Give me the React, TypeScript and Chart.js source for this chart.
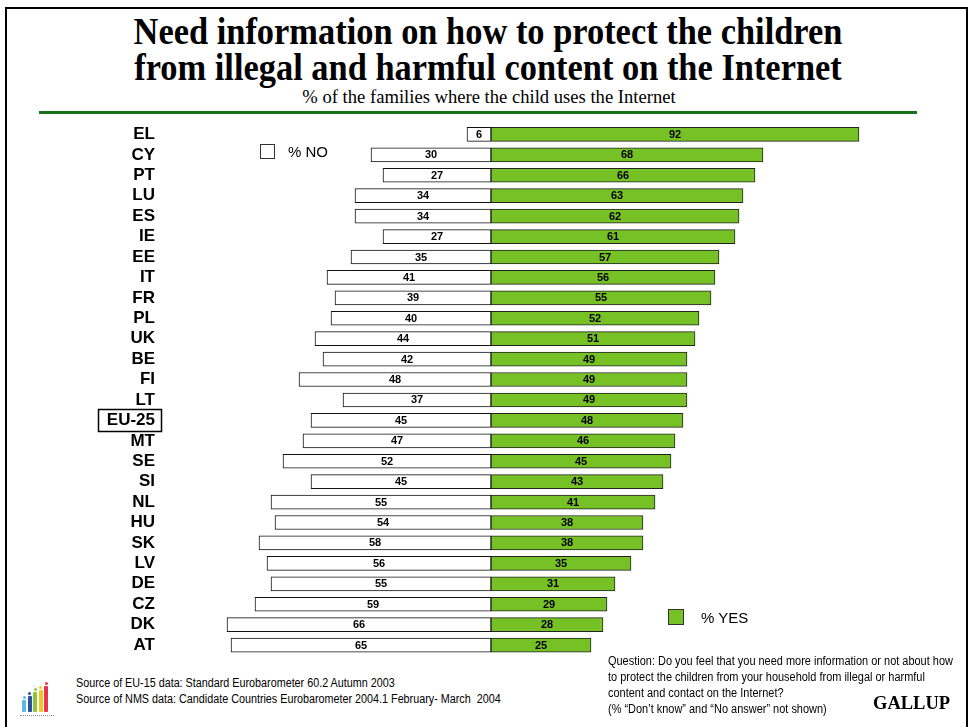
import React, { useEffect, useRef } from "react";
import { Chart, registerables } from "chart.js";

Chart.register(...registerables);

const countries = ["EL","CY","PT","LU","ES","IE","EE","IT","FR","PL","UK","BE","FI","LT","EU-25","MT","SE","SI","NL","HU","SK","LV","DE","CZ","DK","AT"];
const noValues = [6,30,27,34,34,27,35,41,39,40,44,42,48,37,45,47,52,45,55,54,58,56,55,59,66,65];
const yesValues = [92,68,66,63,62,61,57,56,55,52,51,49,49,49,48,46,45,43,41,38,38,35,31,29,28,25];
const highlighted = "EU-25";

const GREEN = "#76c125";
const SANS = "Arial, 'Liberation Sans', sans-serif";
const SERIF = "'Times New Roman', 'Liberation Serif', serif";
const LABEL_FONT_SIZE = 17;

export default function App() {
  const ref = useRef<HTMLCanvasElement>(null);

  useEffect(() => {
    if (!ref.current) return;
    const labelPlugin = {
      id: "barLabels",
      afterDatasetsDraw(chart: any) {
        const ctx = chart.ctx;
        ctx.save();
        ctx.font = "bold 11px " + SANS;
        ctx.fillStyle = "#000";
        ctx.textAlign = "center";
        ctx.textBaseline = "middle";
        chart.data.datasets.forEach((ds: any, di: number) => {
          const meta = chart.getDatasetMeta(di);
          meta.data.forEach((bar: any, i: number) => {
            const v = Math.abs(ds.data[i] as number);
            ctx.fillText(String(v), (bar.x + bar.base) / 2, bar.y + 0.5);
          });
        });
        const yScale = chart.scales.y;
        const idx = countries.indexOf(highlighted);
        if (idx >= 0) {
          const cy = yScale.getPixelForValue(idx);
          ctx.font = "bold " + LABEL_FONT_SIZE + "px " + SANS;
          const w = ctx.measureText(highlighted).width;
          const textRight = chart.chartArea.left - 4;
          const right = textRight + 6;
          const left = textRight - w - 9;
          ctx.strokeStyle = "#000";
          ctx.lineWidth = 1.5;
          ctx.strokeRect(Math.round(left) + 0.5, Math.round(cy - 11) + 0.5, Math.round(right - left), 22);
        }
        ctx.restore();
      },
    };

    const chart = new Chart(ref.current, {
      type: "bar",
      data: {
        labels: countries,
        datasets: [
          {
            label: "% NO",
            data: noValues.map((v) => -v),
            backgroundColor: "#ffffff",
            borderColor: "#111",
            borderWidth: 1,
            borderSkipped: false,
            barThickness: 14,
          },
          {
            label: "% YES",
            data: yesValues,
            backgroundColor: GREEN,
            borderColor: "#222",
            borderWidth: 1,
            borderSkipped: false,
            barThickness: 14,
          },
        ],
      },
      options: {
        indexAxis: "y",
        animation: false,
        responsive: false,
        maintainAspectRatio: false,
        layout: { padding: { left: 0, right: 37, top: 10.7, bottom: 14.7 } },
        plugins: {
          legend: { display: false },
          tooltip: { enabled: false },
        },
        scales: {
          x: { stacked: true, min: -83, max: 110, display: false },
          y: {
            stacked: true,
            grid: { display: false, drawTicks: false, tickLength: 0 },
            border: { display: false },
            ticks: {
              autoSkip: false,
              color: "#000",
              padding: 4,
              font: { family: SANS, size: LABEL_FONT_SIZE, weight: "bold" },
            },
            afterFit: (s: any) => {
              s.width = 159;
            },
          },
        },
      },
      plugins: [labelPlugin],
    } as any);
    return () => chart.destroy();
  }, []);

  const abs = (o: React.CSSProperties): React.CSSProperties => ({ position: "absolute", ...o });

  const logoBars = [
    { c: "#5bb8e6", h: 12 },
    { c: "#2a4f9c", h: 16 },
    { c: "#8cc63f", h: 20 },
    { c: "#f2c81c", h: 22 },
    { c: "#e8344a", h: 26 },
  ];

  return (
    <div style={{ position: "fixed", left: 0, top: 0, width: 968, height: 727, background: "#fff", overflow: "hidden" }}>
      <div style={abs({ left: 5, top: 7, width: 959, height: 740, borderLeft: "2px solid #000", borderTop: "2px solid #000", borderRight: "2px solid #000" })} />
      <div style={abs({ left: 0, top: 13.5, width: 976, textAlign: "center", fontFamily: SERIF, fontWeight: "bold", fontSize: 37, lineHeight: "36px", color: "#000", transform: "scaleX(0.93)", transformOrigin: "488px 0" })}>
        Need information on how to protect the children
        <br />
        from illegal and harmful content on the Internet
      </div>
      <div style={abs({ left: 0, top: 88, width: 978, textAlign: "center", fontFamily: SERIF, fontSize: 18.6, lineHeight: "18px", color: "#000" })}>
        % of the families where the child uses the Internet
      </div>
      <div style={abs({ left: 39, top: 111, width: 878, height: 3, background: "#17701a" })} />

      <canvas ref={ref} width={968} height={560} style={abs({ left: 0, top: 110 })} />

      <div style={abs({ left: 260, top: 144, display: "flex", alignItems: "center", height: 15 })}>
        <div style={{ width: 13, height: 13, border: "1px solid #333", background: "#fff" }} />
        <span style={{ marginLeft: 13, fontFamily: SANS, fontSize: 15, color: "#000" }}>% NO</span>
      </div>
      <div style={abs({ left: 668, top: 609, display: "flex", alignItems: "center", height: 16 })}>
        <div style={{ width: 14, height: 14, border: "1px solid #333", background: GREEN }} />
        <span style={{ marginLeft: 17, fontFamily: SANS, fontSize: 15, color: "#000" }}>% YES</span>
      </div>

      <div style={abs({ left: 22, top: 684, width: 32, height: 36 })}>
        {logoBars.map((b, i) => (
          <div key={i}>
            <div style={abs({ left: i * 5.5, top: 28 - b.h, width: 4, height: b.h, background: b.c, borderRadius: 1 })} />
            <div style={abs({ left: i * 5.5 + 0.5, top: 28 - b.h - 4, width: 3, height: 3, borderRadius: 2, background: b.c })} />
          </div>
        ))}
        <div style={abs({ left: -2, top: 31, width: 34, height: 2, borderTop: "1px dotted #8a8a8a" })} />
      </div>

      <div style={abs({ left: 76, top: 675, fontFamily: SANS, fontSize: 12.5, lineHeight: "16px", color: "#000", whiteSpace: "pre", transform: "scaleX(0.862)", transformOrigin: "0 0" })}>
        {"Source of EU-15 data: Standard Eurobarometer 60.2 Autumn 2003\nSource of NMS data: Candidate Countries Eurobarometer 2004.1 February- March  2004"}
      </div>
      <div style={abs({ left: 608, top: 653, fontFamily: SANS, fontSize: 12.5, lineHeight: "16px", color: "#000", whiteSpace: "pre", transform: "scaleX(0.877)", transformOrigin: "0 0" })}>
        {"Question: Do you feel that you need more information or not about how\nto protect the children from your household from illegal or harmful\ncontent and contact on the Internet?\n(% \u201cDon\u2019t know\u201d and \u201cNo answer\u201d not shown)"}
      </div>
      <div style={abs({ left: 873, top: 694, fontFamily: SERIF, fontWeight: "bold", fontSize: 18.5, lineHeight: "18px", color: "#000" })}>
        GALLUP
      </div>
    </div>
  );
}
